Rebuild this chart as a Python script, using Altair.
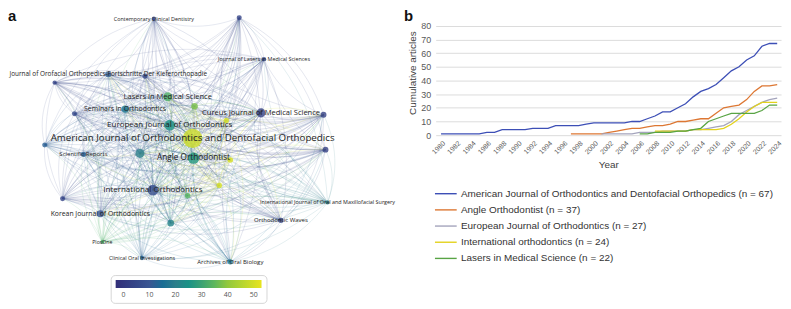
import math
import altair as alt
import pandas as pd

# ---------------- panel a : journal network ----------------
node_label = [
    "American Journal of Orthodontics and Dentofacial Orthopedics",
    "Angle Orthodontist",
    "European Journal of Orthodontics",
    "International Orthodontics",
    "Lasers in Medical Science",
    "Cureus Journal of Medical Science",
    "Seminars in Orthodontics",
    "Korean Journal of Orthodontics",
    "Journal of Orofacial Orthopedics-Fortschritte Der Kieferorthopadie",
    "Scientific Reports",
    "Contemporary Clinical Dentistry",
    "Journal of Lasers in Medical Sciences",
    "Clinical Oral Investigations",
    "Archives of Oral Biology",
    "International Journal of Oral and Maxillofacial Surgery",
    "Orthodontic Waves",
    "PlosOne",
    "", "", "", "", "", "", "", "", "", "", "", "", "", "", "",
]
node_x = [188, 189, 165, 148, 163, 257, 120, 95, 103, 78, 149, 260, 137, 226, 324, 277, 97,
          135, 190, 166, 140, 49, 69, 39, 57, 183, 320, 322, 235, 222, 226, 215]
node_y = [137, 158, 123, 192, 93, 110, 106, 217, 69, 154, 10, 53, 264, 268, 205, 224, 247,
          153, 103, 227, 71, 78, 111, 144, 201, 198, 112, 149, 9, 118, 160, 187]
node_weight = [120, 42, 36, 36, 26, 26, 17, 16, 12, 9, 6, 6, 6, 9, 6, 9, 5,
               26, 14, 14, 9, 6, 8, 8, 8, 10, 11, 11, 8, 9, 10, 9]
node_score = [49, 27, 25, 7, 33, 3, 17, 10, 11, 12, 5, 6, 13, 17, 20, 4, 33,
              20, 38, 21, 5, 4, 5, 12, 4, 34, 3, 3, 4, 50, 51, 50]

colorbar_ticks = [0, 10, 20, 30, 40, 50]

# ---------------- panel b : cumulative articles ----------------
series_names = [
    "American Journal of Orthodontics and Dentofacial Orthopedics (n = 67)",
    "Angle Orthodontist (n = 37)",
    "European Journal of Orthodontics (n = 27)",
    "International orthodontics (n = 24)",
    "Lasers in Medical Science (n = 22)",
]
series_start = [1980, 1997, 2001, 2008, 2006]
ajodo = [1, 1, 1, 1, 1, 1, 2, 2, 4, 4, 4, 4, 5, 5, 5, 7, 7, 7, 7, 8, 9, 9, 9, 9, 9,
         10, 10, 12, 14, 17, 17, 20, 23, 28, 32, 34, 37, 42, 47, 50, 55, 58, 65, 67, 67]
angle = [1, 1, 1, 1, 1, 2, 3, 4, 5, 5, 6, 7, 7, 8, 10, 10, 11, 12, 12, 16, 20, 21, 22,
         26, 32, 36, 36, 37]
ejo = [1, 1, 1, 1, 1, 2, 2, 2, 3, 3, 3, 3, 4, 4, 5, 6, 7, 10, 15, 18, 21, 24, 26, 27]
intortho = [3, 3, 3, 3, 3, 4, 4, 4, 4, 5, 8, 12, 17, 21, 24, 24, 24]
lasers = [1, 1, 2, 2, 2, 3, 3, 4, 5, 10, 12, 14, 16, 16, 16, 16, 18, 22, 22]
series_values = [ajodo, angle, ejo, intortho, lasers]
series_colors = ["#3d4fb6", "#dd7733", "#a4a4bc", "#e3d21c", "#58a444"]
year_ticks = list(range(1980, 2025, 2))
y_ticks = list(range(0, 90, 10))

# ---------------- tables ----------------
nodes = pd.DataFrame({"label": node_label, "x": node_x, "y": node_y,
                      "weight": node_weight, "score": node_score})

rows = []
n = len(node_x)
eid = 0
for i in range(n):
    for j in range(i + 1, n):
        x0, y0, x1, y1 = node_x[i], node_y[i], node_x[j], node_y[j]
        dx, dy = x1 - x0, y1 - y0
        cx = (x0 + x1) / 2 - 0.2 * dy
        cy = (y0 + y1) / 2 + 0.2 * dx
        # link takes the colour of its smaller end
        sc = node_score[j] if node_weight[j] <= node_weight[i] else node_score[i]
        st = math.sqrt(node_weight[i] * node_weight[j])
        for k in range(15):
            t = k / 14
            bx = (1 - t) ** 2 * x0 + 2 * (1 - t) * t * cx + t * t * x1
            by = (1 - t) ** 2 * y0 + 2 * (1 - t) * t * cy + t * t * y1
            rows.append({"edge": eid, "t": t, "ex": bx, "ey": by, "score": sc, "strength": st})
        eid += 1
edges = pd.DataFrame(rows)

brow = []
for name, start, vals in zip(series_names, series_start, series_values):
    for k, v in enumerate(vals):
        brow.append({"series": name, "year": start + k, "value": v})
dfb = pd.DataFrame(brow)

# ---------------- panel a chart ----------------
xs = alt.Scale(domain=[2, 412], nice=False, zero=False)
ys = alt.Scale(domain=[1, 306.3], nice=False, zero=False, reverse=True)
c_domain = [-3, 10, 20, 30, 40, 53]
c_range = ["#322e78", "#3a5692", "#2c7f8b", "#3ba273", "#93c83c", "#e8e41f"]

edge_layer = alt.Chart(edges).mark_line(strokeWidth=0.7, clip=True).encode(
    x=alt.X("ex:Q", scale=xs, axis=None),
    y=alt.Y("ey:Q", scale=ys, axis=None),
    detail="edge:N",
    order="t:Q",
    color=alt.Color("score:Q", scale=alt.Scale(domain=c_domain, range=c_range), legend=None),
    opacity=alt.Opacity("strength:Q", scale=alt.Scale(domain=[5, 120], range=[0.17, 0.72]), legend=None),
)
node_layer = alt.Chart(nodes).mark_circle(opacity=0.8).encode(
    x=alt.X("x:Q", scale=xs, axis=None),
    y=alt.Y("y:Q", scale=ys, axis=None),
    size=alt.Size("weight:Q", scale=alt.Scale(domain=[0, 120], range=[0, 380]), legend=None),
    color=alt.Color("score:Q", scale=alt.Scale(domain=c_domain, range=c_range), legend=None),
)
label_layer = alt.Chart(nodes).transform_filter("datum.label != ''").mark_text(
    font="Open Sans", color="#222222", align="center", baseline="middle").encode(
    x=alt.X("x:Q", scale=xs, axis=None),
    y=alt.Y("y:Q", scale=ys, axis=None),
    text="label:N",
    size=alt.Size("weight:Q", scale=alt.Scale(type="log", domain=[5, 120], range=[5.2, 9.8]), legend=None),
)
colorbar = alt.Chart(pd.DataFrame({"score": colorbar_ticks})).mark_rect(opacity=0).encode(
    x=alt.value(0), x2=alt.value(1), y=alt.value(0), y2=alt.value(1),
    color=alt.Color("score:Q", scale=alt.Scale(domain=c_domain, range=c_range),
                    legend=alt.Legend(type="gradient", orient="none", legendX=103.5, legendY=267,
                                      direction="horizontal", gradientLength=147,
                                      gradientThickness=8, title=None, values=colorbar_ticks,
                                      labelFont="Open Sans", labelFontSize=7, labelColor="#555555",
                                      strokeColor="#d6d6d6", cornerRadius=4, padding=5,
                                      fillColor="white", gradientStrokeWidth=0, labelOffset=3)),
)
letter_a = alt.Chart(pd.DataFrame({"t": ["a"]})).mark_text(
    font="Liberation Sans", fontSize=15, fontWeight="bold", align="left", baseline="top",
    color="#111").encode(text="t:N", x=alt.value(0), y=alt.value(-1))
letter_b = alt.Chart(pd.DataFrame({"t": ["b"]})).mark_text(
    font="Liberation Sans", fontSize=15, fontWeight="bold", align="left", baseline="top",
    color="#111").encode(text="t:N", x=alt.value(399), y=alt.value(-1))

panel_a = alt.layer(edge_layer, node_layer, label_layer, colorbar, letter_a, letter_b).resolve_scale(
    size="independent", color="independent").properties(width=410, height=290)

# ---------------- panel b chart ----------------
panel_b = alt.Chart(dfb).mark_line(strokeWidth=1.3).encode(
    x=alt.X("year:Q", scale=alt.Scale(domain=[1979.3, 2024.5], nice=False, zero=False),
            axis=alt.Axis(values=year_ticks, format="d", labelAngle=-45, labelFontSize=7,
                          labelColor="#595959", title="Year", titleFontSize=10,
                          titleFontWeight="normal", titleColor="#404040", domain=False,
                          ticks=False, grid=False, labelPadding=4, titlePadding=5,
                          labelOverlap=False, labelFlush=False,
                          labelFont="Liberation Sans", titleFont="Liberation Sans")),
    y=alt.Y("value:Q", scale=alt.Scale(domain=[0, 91.4], nice=False),
            axis=alt.Axis(values=y_ticks, labelFontSize=9, labelColor="#595959",
                          title="Cumulative articles", titleFontSize=10, titleFontWeight="normal",
                          titleColor="#404040", domain=False, ticks=False, grid=True,
                          gridColor="#dcdcdc", labelPadding=5, titlePadding=3,
                          labelFont="Liberation Sans", titleFont="Liberation Sans")),
    color=alt.Color("series:N", sort=series_names,
                    scale=alt.Scale(domain=series_names, range=series_colors),
                    legend=alt.Legend(orient="none", legendX=-3, legendY=180, title=None,
                                      symbolType="M-1,0H7", symbolSize=30, symbolStrokeWidth=1.4,
                                      labelOffset=18.5, labelFontSize=10, labelColor="#333333",
                                      labelFont="Liberation Sans", rowPadding=6.3, labelLimit=400,
                                      padding=0)),
).properties(width=348, height=126)

chart = alt.hconcat(panel_a, panel_b, spacing=21, bounds="flush").resolve_scale(
    color="independent", size="independent", opacity="independent", x="independent", y="independent"
).configure_view(stroke=None).properties(padding=0)

chart.save("out.html", embed_options={"renderer": "svg", "actions": False})
